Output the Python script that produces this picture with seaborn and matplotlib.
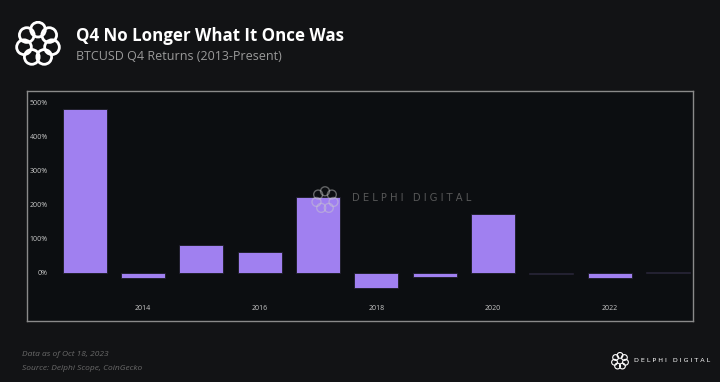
import numpy as np
import pandas as pd
import seaborn as sns
import matplotlib.pyplot as plt
from matplotlib.patches import Circle

# BTCUSD Q4 returns (%)
years = ["2013", "2014", "2015", "2016", "2017", "2018", "2019", "2020", "2021", "2022", "2023"]
q4_returns = [480, -16, 83, 62, 222, -44, -14, 172, -5, -15, 2]
year_ticks = ["2014", "2016", "2018", "2020", "2022"]
pct_ticks = [0, 100, 200, 300, 400, 500]

BG = "#121315"
PANEL = "#0c0e11"
BAR = "#a080f0"

sns.set_style("dark")
plt.rcParams["font.family"] = ["Open Sans", "DejaVu Sans"]

df = pd.DataFrame({"year": years, "ret": q4_returns})

fig = plt.figure(figsize=(7.2, 3.82), dpi=100, facecolor=BG)
ax = fig.add_axes([0.0375, 0.1605, 0.925, 0.601])
ax.set_facecolor(PANEL)

sns.barplot(ax=ax, data=df, x="year", y="ret", order=years, color=BAR,
            width=0.755, edgecolor="#1a1a22", linewidth=0.6, saturation=1)

ax.set_xlim(-0.99, 10.43)
ax.set_ylim(-141, 534)
ax.set_xlabel("")
ax.set_ylabel("")
ax.grid(False)

ax.set_yticks(pct_ticks)
ax.set_yticklabels([f"{v}%" for v in pct_ticks])
ax.set_xticks([years.index(y) for y in year_ticks])
ax.set_xticklabels(year_ticks)
ax.tick_params(axis="y", length=0, pad=-15, labelsize=5, labelcolor="#c8c8c8")
ax.tick_params(axis="x", length=0, pad=-11.5, labelsize=5, labelcolor="#c8c8c8")
for lab in ax.get_yticklabels():
    lab.set_horizontalalignment("right")

for s in ax.spines.values():
    s.set_visible(True)
    s.set_color("#8a8a8a")
    s.set_linewidth(1.0)


def draw_logo(rect, color, lw, alpha=1.0, z=1):
    lax = fig.add_axes(rect)
    lax.set_xlim(-1.25, 1.25)
    lax.set_ylim(-1.25, 1.25)
    lax.set_aspect("equal")
    lax.axis("off")
    lax.set_zorder(z)
    for k in range(7):
        a = np.pi / 2 + k * 2 * np.pi / 7
        lax.add_patch(Circle((0.78 * np.cos(a), 0.78 * np.sin(a)), 0.4,
                             fill=False, ec=color, lw=lw, alpha=alpha))
    return lax


# watermark, drawn over the bars
ax.text((352 - 27) / 666, 0.535, "D E L P H I   D I G I T A L", transform=ax.transAxes,
        color="#6a6a6a", alpha=0.8, fontsize=7.2, ha="left", va="center",
        family="DejaVu Sans", zorder=10)
draw_logo([311 / 720, 1 - 214 / 382, 28 / 720, 28 / 382], "#cccccc", 1.0, alpha=0.45, z=5)

# header / footer logos
draw_logo([15 / 720, 1 - 67 / 382, 46 / 720, 46 / 382], "white", 2.0)
draw_logo([611 / 720, 1 - 370 / 382, 18 / 720, 18 / 382], "white", 0.8)

fig.text(76 / 720, 1 - 36 / 382, "Q4 No Longer What It Once Was", color="white",
         fontsize=12.2, fontweight="bold", ha="left", va="center")
fig.text(76 / 720, 1 - 57 / 382, "BTCUSD Q4 Returns (2013-Present)", color="#9a9a9a",
         fontsize=9, ha="left", va="center")

fig.text(22 / 720, 1 - 354 / 382, "Data as of Oct 18, 2023", color="#6a6a6a",
         fontsize=6.0, style="italic", ha="left", va="center")
fig.text(22 / 720, 1 - 368 / 382, "Source: Delphi Scope, CoinGecko", color="#6a6a6a",
         fontsize=6.0, style="italic", ha="left", va="center")
fig.text(634 / 720, 1 - 361 / 382, "D E L P H I   D I G I T A L", color="white",
         fontsize=4.6, ha="left", va="center", family="DejaVu Sans")

fig.savefig("out.png", dpi=100, facecolor=BG)
